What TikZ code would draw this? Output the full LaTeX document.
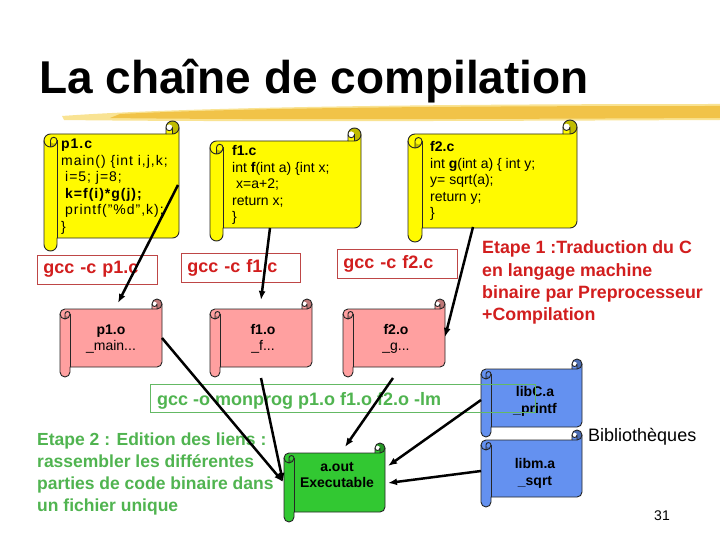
\documentclass[tikz,border=0pt]{standalone}
\usepackage{fontspec}
\setmainfont{Liberation Sans}
\usetikzlibrary{arrows.meta}

\definecolor{scrollyellow}{RGB}{255,250,0}
\definecolor{scrollpink}{RGB}{255,160,160}
\definecolor{scrollblue}{RGB}{100,145,240}
\definecolor{scrollgreen}{RGB}{50,200,50}
\definecolor{txtred}{RGB}{210,30,30}
\definecolor{boxred}{RGB}{190,70,70}
\definecolor{txtgreen}{RGB}{80,180,80}
\definecolor{boxgreen}{RGB}{100,185,100}
\definecolor{brushgold}{RGB}{240,190,60}
\definecolor{brushpale}{RGB}{248,220,120}

\newcommand\drawscroll[6]{%
\begin{scope}[shift={(#2,#3)}]
\pgfmathsetmacro\scW{#4-#2}
\pgfmathsetmacro\scH{#5-#3}
\pgfmathsetmacro\scC{#6}
\pgfmathsetmacro\scCh{#6/2}
\pgfmathsetmacro\scCq{#6/4}
\pgfmathsetmacro\scYthree{1.5*#6}
\pgfmathsetmacro\scYfour{2*#6}
\pgfmathsetmacro\scYsix{\scH-#6}
\pgfmathsetmacro\scYseven{\scH-#6/2}
\pgfmathsetmacro\scYfive{\scYsix-#6/2}
\pgfmathsetmacro\scXthree{\scW-#6}
\pgfmathsetmacro\scXfour{\scW-#6/2}
\fill[#1] (\scW,\scCh) arc[start angle=0,delta angle=90,radius=\scCh] -- (\scXfour,\scCh)
  arc[start angle=0,delta angle=180,radius=\scCq] -- (\scXthree,\scC) -- (\scCh,\scC)
  arc[start angle=270,delta angle=-90,radius=\scCh] -- (0,\scYseven)
  arc[start angle=180,delta angle=-180,radius=\scCh] -- (\scC,\scYsix) -- (\scXfour,\scYsix)
  arc[start angle=90,delta angle=-90,radius=\scCh] -- cycle;
\fill[#1!75!black] (\scCh,\scYfour) arc[start angle=90,delta angle=-90,radius=\scCh]
  arc[start angle=0,delta angle=180,radius=\scCq] -- cycle;
\fill[#1!75!black] (\scXfour,\scC) arc[start angle=90,delta angle=-270,radius=\scCh]
  arc[start angle=180,delta angle=180,radius=\scCq] -- cycle;
\draw[scrollline] (0,\scYthree) arc[start angle=180,delta angle=90,radius=\scCh] -- (\scXthree,\scC)
  -- (\scXthree,\scCh) arc[start angle=180,delta angle=180,radius=\scCh] -- (\scW,\scYfive)
  arc[start angle=0,delta angle=90,radius=\scCh] -- (\scC,\scYsix) -- (\scC,\scYseven)
  arc[start angle=0,delta angle=180,radius=\scCh] -- cycle;
\draw[scrollline] (\scXthree,\scC) -- (\scXfour,\scC) arc[start angle=90,delta angle=-90,radius=\scCh];
\draw[scrollline] (\scXfour,\scC) -- (\scXfour,\scCh) arc[start angle=0,delta angle=180,radius=\scCq];
\draw[scrollline] (\scCh,\scYfour) -- (\scCh,\scYthree) arc[start angle=180,delta angle=180,radius=\scCq]
  arc[start angle=0,delta angle=180,radius=\scCh];
\draw[scrollline] (\scC,\scYthree) -- (\scC,\scYsix);
\end{scope}}

\newcommand\codelines[1]{\parbox[t]{220pt}{\raggedright\fontsize{14}{16.5}\selectfont #1}}
\newcommand\toplines[2]{\parbox[t]{260pt}{\raggedright\fontsize{#1}{22.2}\selectfont\bfseries #2}}

\begin{document}
\begin{tikzpicture}[x=1pt,y=-1pt,
  scrollline/.style={draw=black!85,line width=0.9pt,line join=round},
  codetext/.style={anchor=base west,inner sep=0pt},
  objtext/.style={align=center,inner sep=0pt,font=\fontsize{14}{16}\selectfont},
  redbox/.style={draw=boxred,line width=0.8pt,text=txtred,font=\fontsize{18}{20}\selectfont\bfseries,
    align=left,inner xsep=6pt,inner ysep=0pt,minimum height=29pt,anchor=west},
  steptext/.style={anchor=base west,inner sep=0pt},
  flow/.style={line width=2.5pt,-{Latex[length=9pt,width=7pt]}}]
\useasboundingbox (0,0) rectangle (720,540);
\fill[white] (0,0) rectangle (720,540);

% title
\node[anchor=base west,inner sep=0pt,font=\fontsize{46}{50}\selectfont\bfseries] (title) at (39,94) {La chaîne de compilation};

% brush stroke
\fill[brushpale,opacity=0.8] (62,116) .. controls (200,106) and (480,104) .. (720,104) -- (720,120)
  .. controls (480,121) and (220,122) .. (64,120) -- cycle;
\fill[brushgold,opacity=0.85] (120,114) .. controls (260,107) and (500,106) .. (720,106) -- (720,118)
  .. controls (500,119) and (260,120) .. (110,118) -- cycle;

% source scrolls
\drawscroll{scrollyellow}{44}{121}{179}{251}{13}
\drawscroll{scrollyellow}{210}{128}{361}{241}{13}
\drawscroll{scrollyellow}{408}{120}{577}{242}{14}

\node[codetext] (p1c) at (61,149) {\codelines{\addfontfeatures{LetterSpace=7}\textbf{p1.c}\\main() \{int i,j,k;\\\hspace*{4pt}i=5; j=8;\\\hspace*{4pt}\textbf{k=f(i)*g(j);}\\\hspace*{4pt}printf("\%d",k);\\\}}};
\node[codetext] (f1c) at (232,156) {\codelines{\textbf{f1.c}\\int \textbf{f}(int a) \{int x;\\\hspace*{4pt}x=a+2;\\return x;\\\}}};
\node[codetext] (f2c) at (430,152) {\codelines{\textbf{f2.c}\\int \textbf{g}(int a) \{ int y;\\y= sqrt(a);\\return y;\\\}}};

% compile commands
\node[redbox,text width=108pt] (gccp) at (37,269.5) {gcc -c p1.c};
\node[redbox,text width=107pt] (gccf) at (181,267.5) {gcc -c f1.c};
\node[redbox,text width=108pt] (gccg) at (337,263.5) {gcc -c f2.c};

% object scrolls
\drawscroll{scrollpink}{60}{299}{162}{377}{10}
\drawscroll{scrollpink}{210}{299}{312}{377}{10}
\drawscroll{scrollpink}{343}{299}{445}{377}{10}
\node[objtext] (p1o) at (111,339) {\textbf{p1.o}\\\_main...};
\node[objtext] (f1o) at (263,339) {\textbf{f1.o}\\\_f...};
\node[objtext] (f2o) at (396,339) {\textbf{f2.o}\\\_g...};

% libraries
\drawscroll{scrollblue}{481}{359}{582}{437}{10}
\drawscroll{scrollblue}{481}{430}{582}{507}{10}
\node[objtext,font=\fontsize{14}{17}\selectfont\bfseries] (libc) at (535,401) {libC.a\\\_printf};
\node[objtext,font=\fontsize{14}{17}\selectfont\bfseries] (libm) at (535,473) {libm.a\\\_sqrt};
\node[anchor=base west,inner sep=0pt,font=\fontsize{18}{20}\selectfont] (biblio) at (588,441) {Bibliothèques};

% link command
\node[draw=boxgreen,line width=0.8pt,minimum width=385pt,minimum height=28pt,anchor=north west,inner sep=0pt] (linkbox) at (150,384) {};
\node[anchor=base west,inner sep=0pt,text=txtgreen,font=\fontsize{18}{20}\selectfont\bfseries] (linkcmd) at (157,405) {gcc -o monprog p1.o f1.o f2.o -lm};

% executable
\drawscroll{scrollgreen}{284}{443}{385}{522}{10}
\node[objtext,font=\fontsize{14}{16.5}\selectfont\bfseries] (aout) at (337,475) {a.out\\Executable};

% step texts
\node[steptext,text=txtred] (etape1) at (482,254)
  {\toplines{17.8}{Etape 1 :Traduction du C\\en langage machine\\binaire par Preprocesseur\\+Compilation}};
\node[steptext,text=txtgreen] (etape2) at (37,445)
  {\toplines{17.5}{Etape 2 : Edition des liens :\\rassembler les différentes\\parties de code binaire dans\\un fichier unique}};

\node[anchor=base,inner sep=0pt,font=\fontsize{14}{16}\selectfont] (pagenum) at (662,520) {31};

% connector end points
\coordinate (p1cout) at (178,185);
\coordinate (p1oin) at (118,303);
\coordinate (f1cout) at (270,228);
\coordinate (f1oin) at (261,300);
\coordinate (f2cout) at (473,227);
\coordinate (f2oin) at (445,337);
\coordinate (p1oout) at (162,338);
\coordinate (f1oout) at (261,378);
\coordinate (f2oout) at (393,378);
\coordinate (aoutleft) at (283,482);
\coordinate (aouttop) at (345,447);
\coordinate (libcout) at (481,400);
\coordinate (libmout) at (481,471);
\coordinate (aoutright) at (388,466);
\coordinate (aoutrightb) at (388,483);

\draw[flow] (p1cout) -- (p1oin);
\draw[flow] (f1cout) -- (f1oin);
\draw[flow] (f2cout) -- (f2oin);
\draw[flow] (p1oout) -- (aoutleft);
\draw[flow] (f1oout) -- (aoutleft);
\draw[flow] (f2oout) -- (aouttop);
\draw[flow] (libcout) -- (aoutright);
\draw[flow] (libmout) -- (aoutrightb);
\end{tikzpicture}
\end{document}
